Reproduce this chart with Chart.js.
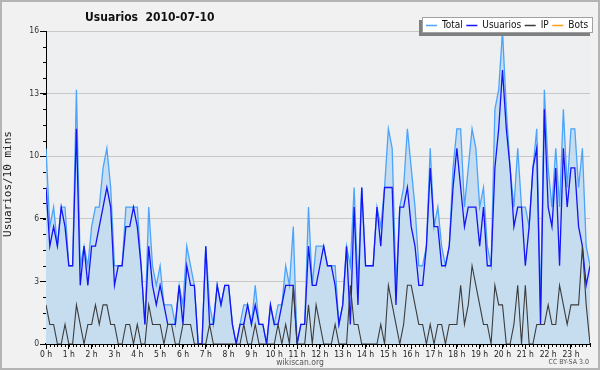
<!DOCTYPE html>
<html>
<head>
<meta charset="utf-8">
<script src="https://cdn.jsdelivr.net/npm/chart.js"></script>
<style>
  html, body { margin: 0; padding: 0; background: #f1f1f1; }
  canvas { display: block; }
</style>
</head>
<body>
<canvas id="myChart" width="600" height="370"></canvas>
<script>
// Datos: un valor cada 10 minutos (144 por dia)
let hourLabels = ['0 h', '1 h', '2 h', '3 h', '4 h', '5 h', '6 h', '7 h', '8 h', '9 h', '10 h', '11 h',
  '12 h', '13 h', '14 h', '15 h', '16 h', '17 h', '18 h', '19 h', '20 h', '21 h', '22 h', '23 h'];

let totalData = [
  10, 6, 7, 5, 7, 7, 4, 4, 13, 4, 5, 4,
  6, 7, 7, 9, 10, 8, 4, 4, 4, 7, 7, 7,
  7, 4, 1, 7, 4, 3, 4, 2, 2, 2, 1, 3,
  2, 5, 4, 3, 0, 0, 5, 2, 1, 3, 2, 3,
  3, 1, 0, 1, 2, 2, 1, 3, 1, 1, 0, 2,
  1, 2, 2, 4, 3, 6, 0, 1, 1, 7, 3, 5,
  5, 5, 4, 4, 4, 1, 2, 5, 4, 8, 3, 8,
  4, 4, 4, 7, 6, 8, 11, 10, 3, 7, 8, 11,
  9, 7, 4, 4, 5, 10, 6, 7, 5, 4, 5, 9,
  11, 11, 7, 9, 11, 10, 7, 8, 5, 4, 12, 13,
  16, 12, 9, 7, 10, 7, 7, 6, 9, 11, 2, 13,
  9, 7, 10, 7, 12, 8, 11, 11, 8, 10, 5, 4
];
let usuariosData = [
  8, 5, 6, 5, 7, 6, 4, 4, 11, 3, 5, 3,
  5, 5, 6, 7, 8, 7, 3, 4, 4, 6, 6, 7,
  6, 4, 1, 5, 3, 2, 3, 2, 1, 1, 1, 3,
  1, 4, 3, 3, 0, 0, 5, 1, 1, 3, 2, 3,
  3, 1, 0, 1, 1, 2, 1, 2, 1, 1, 0, 2,
  1, 1, 2, 3, 3, 3, 0, 1, 1, 5, 3, 3,
  4, 5, 4, 4, 3, 1, 2, 5, 1, 7, 2, 8,
  4, 4, 4, 7, 5, 8, 8, 8, 2, 7, 7, 8,
  6, 5, 3, 3, 5, 9, 6, 6, 4, 4, 5, 8,
  10, 8, 6, 7, 7, 7, 5, 7, 4, 4, 9, 11,
  14, 11, 9, 6, 7, 7, 4, 6, 9, 10, 1, 12,
  7, 6, 9, 4, 10, 7, 9, 9, 6, 5, 3, 4
];
let ipData = [
  2, 1, 1, 0, 0, 1, 0, 0, 2, 1, 0, 1,
  1, 2, 1, 2, 2, 1, 1, 0, 0, 1, 1, 0,
  1, 0, 0, 2, 1, 1, 1, 0, 1, 1, 0, 0,
  1, 1, 1, 0, 0, 0, 0, 1, 0, 0, 0, 0,
  0, 0, 0, 0, 1, 0, 0, 1, 0, 0, 0, 0,
  0, 1, 0, 1, 0, 3, 0, 0, 0, 2, 0, 2,
  1, 0, 0, 0, 1, 0, 0, 0, 3, 1, 1, 0,
  0, 0, 0, 0, 1, 0, 3, 2, 1, 0, 1, 3,
  3, 2, 1, 1, 0, 1, 0, 1, 1, 0, 1, 1,
  1, 3, 1, 2, 4, 3, 2, 1, 1, 0, 3, 2,
  2, 0, 0, 1, 3, 0, 3, 0, 0, 1, 1, 1,
  2, 1, 1, 3, 2, 1, 2, 2, 2, 5, 2, 0
];
let botsData = [
  0, 0, 0, 0, 0, 0, 0, 0, 0, 0, 0, 0,
  0, 0, 0, 0, 0, 0, 0, 0, 0, 0, 0, 0,
  0, 0, 0, 0, 0, 0, 0, 0, 0, 0, 0, 0,
  0, 0, 0, 0, 0, 0, 0, 0, 0, 0, 0, 0,
  0, 0, 0, 0, 0, 0, 0, 0, 0, 0, 0, 0,
  0, 0, 0, 0, 0, 0, 0, 0, 0, 0, 0, 0,
  0, 0, 0, 0, 0, 0, 0, 0, 0, 0, 0, 0,
  0, 0, 0, 0, 0, 0, 0, 0, 0, 0, 0, 0,
  0, 0, 0, 0, 0, 0, 0, 0, 0, 0, 0, 0,
  0, 0, 0, 0, 0, 0, 0, 0, 0, 0, 0, 0,
  0, 0, 0, 0, 0, 0, 0, 0, 0, 0, 0, 0,
  0, 0, 0, 0, 0, 0, 0, 0, 0, 0, 0, 0
];

let titleText = 'Usuarios  2010-07-10';
let yTitle = 'Usuarios/10 mins';
let sansFont = '"DejaVu Sans Condensed", "DejaVu Sans", sans-serif';

let toPoints = (arr) => arr.map((v, i) => ({ x: i, y: v }));
let isHour = (v) => Math.abs(v / 6 - Math.round(v / 6)) < 1e-6;

let canvas = document.querySelector('#myChart');
let ctx = canvas.getContext('2d');

// Fondo, marco, titulo, leyenda y marcas menores
let decorPlugin = {
  id: 'decor',
  beforeDraw: (chart) => {
    let c = chart.ctx;
    let a = chart.chartArea;
    c.save();
    c.fillStyle = '#f1f1f1';
    c.fillRect(0, 0, chart.width, chart.height);
    c.fillStyle = '#eeeff1';
    c.fillRect(a.left, a.top, a.right - a.left, a.bottom - a.top);
    c.strokeStyle = '#b4b4b4';
    c.lineWidth = 2;
    c.strokeRect(1, 1, chart.width - 2, chart.height - 2);
    c.restore();
  },
  afterDraw: (chart) => {
    let c = chart.ctx;
    let xs = chart.scales.x;
    let ys = chart.scales.y;
    c.save();
    // marcas menores
    c.strokeStyle = '#000';
    c.lineWidth = 1;
    c.beginPath();
    for (let i = 0; i <= 143; i++) {
      let px = Math.round(xs.getPixelForValue(i)) + 0.5;
      c.moveTo(px, ys.bottom);
      c.lineTo(px, ys.bottom + 3);
    }
    for (let k = 0; k <= 20; k++) {
      let py = Math.round(ys.getPixelForValue(k * 0.8)) + 0.5;
      c.moveTo(xs.left - 3, py);
      c.lineTo(xs.left, py);
    }
    c.stroke();

    // titulo
    c.fillStyle = '#111';
    c.font = 'bold 12px ' + sansFont;
    c.textBaseline = 'alphabetic';
    c.fillText(titleText, 85, 21);

    // titulo eje y
    c.save();
    c.translate(8, 184);
    c.rotate(-Math.PI / 2);
    c.font = '11px "DejaVu Sans Mono", monospace';
    c.textAlign = 'center';
    c.textBaseline = 'middle';
    c.fillStyle = '#222';
    c.fillText(yTitle, 0, 0);
    c.restore();

    // pie
    c.fillStyle = '#555';
    c.font = '8.5px ' + sansFont;
    c.textAlign = 'center';
    c.fillText('wikiscan.org', 300, 365);
    c.font = '7px ' + sansFont;
    c.textAlign = 'right';
    c.fillText('CC BY-SA 3.0', 589, 364);

    // leyenda
    let bx = 422, by = 17, bw = 171, bh = 16;
    c.fillStyle = '#808080';
    c.fillRect(bx - 3, by + 3, bw, bh);
    c.fillStyle = '#fff';
    c.fillRect(bx, by, bw, bh);
    c.strokeStyle = '#a0a0a0';
    c.lineWidth = 1;
    c.strokeRect(bx + 0.5, by + 0.5, bw - 1, bh - 1);
    c.font = '10px ' + sansFont;
    c.textAlign = 'left';
    c.textBaseline = 'middle';
    let lx = bx + 4;
    chart.data.datasets.forEach((ds) => {
      c.strokeStyle = ds.borderColor;
      c.lineWidth = 1.5;
      c.beginPath();
      c.moveTo(lx, by + 8.5);
      c.lineTo(lx + 11, by + 8.5);
      c.stroke();
      c.fillStyle = '#111';
      c.fillText(ds.label, lx + 16, by + 8.5);
      lx += 16 + c.measureText(ds.label).width + 3.5;
    });
    c.restore();
  }
};

let tickFont = { family: sansFont, size: 8.5 };

let chart = new Chart(ctx, {
  type: 'line',
  data: {
    datasets: [
      {
        label: 'Total',
        data: toPoints(totalData),
        borderColor: '#4ba3fb',
        backgroundColor: '#c6ddf0',
        fill: 'origin',
        borderWidth: 1.3,
        order: 4
      },
      {
        label: 'Usuarios',
        data: toPoints(usuariosData),
        borderColor: '#1414f5',
        borderWidth: 1.3,
        fill: false,
        order: 3
      },
      {
        label: 'IP',
        data: toPoints(ipData),
        borderColor: '#3c3c3c',
        borderWidth: 1.1,
        fill: false,
        order: 2
      },
      {
        label: 'Bots',
        data: toPoints(botsData),
        borderColor: '#ff9c1a',
        borderWidth: 1.1,
        fill: false,
        order: 5
      }
    ]
  },
  options: {
    responsive: false,
    animation: false,
    layout: { padding: { left: 0, right: 10, top: 31, bottom: 0 } },
    elements: {
      point: { radius: 0 },
      line: { tension: 0 }
    },
    plugins: {
      legend: { display: false },
      title: { display: false },
      tooltip: { enabled: false }
    },
    scales: {
      x: {
        type: 'linear',
        min: 0,
        max: 143,
        z: 1,
        afterFit: (s) => { s.height = 26; },
        afterBuildTicks: (s) => {
          s.ticks = hourLabels.map((lbl, h) => ({ value: h * 6 }));
        },
        ticks: {
          autoSkip: false,
          maxRotation: 0,
          padding: 1,
          color: '#222',
          font: tickFont,
          callback: (v) => isHour(v) ? hourLabels[Math.round(v / 6)] : ''
        },
        grid: {
          drawOnChartArea: false,
          tickLength: 5,
          tickColor: '#000'
        },
        border: { color: '#000', width: 2 }
      },
      y: {
        min: 0,
        max: 16,
        afterFit: (s) => { s.width = 46; },
        ticks: {
          stepSize: 3.2,
          padding: 1,
          color: '#333',
          font: tickFont,
          callback: (v) => Math.round(v)
        },
        grid: {
          color: '#c8c8c8',
          tickLength: 6,
          tickColor: '#000'
        },
        border: { color: '#000', width: 1 }
      }
    }
  },
  plugins: [decorPlugin]
});
</script>
</body>
</html>
